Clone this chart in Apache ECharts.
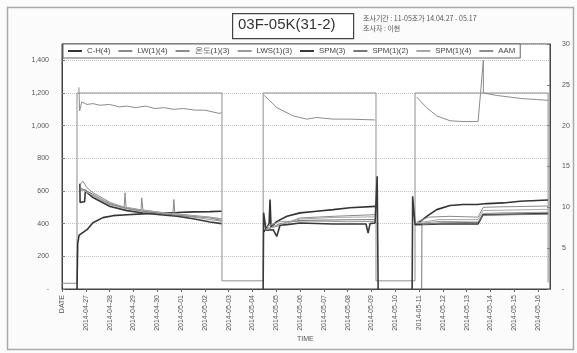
<!DOCTYPE html>
<html>
<head>
<meta charset="utf-8">
<script src="https://cdn.jsdelivr.net/npm/echarts@6/dist/echarts.min.js"></script>
<style>
    html, body { margin: 0; padding: 0; background: #fbfbfb; }
    #chart { width: 577px; height: 353px; }
</style>
</head>
<body>
<div id="chart"></div>
<script>
    // x = days since 2014-04-26 00:00
    var dayLabels = ['2014-04-27', '2014-04-28', '2014-04-29', '2014-04-30', '2014-05-01', '2014-05-02',
        '2014-05-03', '2014-05-04', '2014-05-05', '2014-05-06', '2014-05-07', '2014-05-08', '2014-05-09',
        '2014-05-10', '2014-05-11', '2014-05-12', '2014-05-13', '2014-05-14', '2014-05-15', '2014-05-16'];
    var seriesNames = ['C-H(4)', 'LW(1)(4)', '온도(1)(3)', 'LWS(1)(3)', 'SPM(3)', 'SPM(1)(2)', 'SPM(1)(4)', 'AAM'];

    var chA = [
        [[0.63, 0], [0.66, 280], [0.72, 330], [1.05, 363], [1.30, 406], [1.72, 437], [2.14, 449], [2.73, 455], [3.40, 460],
            [4.12, 465], [4.83, 468], [5.50, 472], [6.22, 474], [6.70, 476]],
        [[8.48, 350], [8.70, 400], [8.74, 548], [8.78, 380], [9.03, 414], [9.45, 445], [10.0, 466], [10.70, 476],
            [11.39, 486], [12.10, 497], [13.15, 506]],
        [[14.88, 394], [15.32, 445], [15.74, 486], [16.30, 511], [16.85, 517], [17.44, 517], [17.86, 523], [18.53, 527],
            [19.24, 537], [20.42, 545]]
    ];
    var lwB = [
        [[0.76, 640], [0.88, 660], [1.05, 620], [1.30, 590], [2.02, 530], [2.61, 500], [2.65, 589], [2.69, 500],
            [3.32, 485], [3.35, 558], [3.40, 484], [4.12, 470], [4.66, 462], [4.70, 548], [4.74, 461], [5.50, 450],
            [6.22, 440], [6.70, 430]],
        [[8.55, 370], [9.03, 383], [10.0, 435], [11.39, 445], [13.15, 455]],
        [[14.90, 410], [15.40, 440], [16.30, 445], [17.48, 440], [17.69, 500], [18.40, 503], [19.24, 505], [20.42, 508]]
    ];
    // temperature, right axis
    var tempT = [
        [[0.71, 24.7], [0.74, 21.8], [0.83, 22.9], [1.05, 22.6], [1.30, 22.7], [1.60, 22.5], [2.00, 22.6], [2.40, 22.3],
            [2.73, 22.4], [3.10, 22.2], [3.50, 22.4], [3.90, 22.1], [4.30, 22.2], [4.70, 22.0], [5.10, 22.1], [5.59, 21.9],
            [6.00, 21.9], [6.30, 21.7], [6.60, 21.5], [6.70, 21.6]],
        [[8.50, 23.7], [9.03, 22.2], [9.71, 21.2], [10.28, 20.8], [10.70, 21.0], [11.39, 20.8], [12.10, 20.8], [13.15, 20.7]],
        [[14.90, 23.5], [15.32, 22.2], [15.74, 21.2], [16.30, 20.6], [16.85, 20.5], [17.48, 20.5], [17.70, 28.0],
            [17.70, 24.0], [18.26, 23.7], [18.82, 23.5], [19.37, 23.3], [19.94, 23.2], [20.42, 23.1]]
    ];
    var lwsC = [
        [[0.76, 600], [0.97, 610], [1.30, 570], [2.02, 515], [2.73, 490], [3.40, 475], [4.12, 460], [4.83, 450],
            [5.50, 440], [6.22, 425], [6.70, 415]],
        [[8.55, 380], [9.16, 414], [10.5, 416], [12.0, 412], [13.15, 414]],
        [[14.90, 400], [15.88, 414], [17.48, 410], [17.69, 462], [18.40, 466], [20.42, 470]]
    ];
    var spmD = [
        [[0.75, 645], [0.76, 530], [0.95, 535], [0.98, 600], [1.30, 560], [2.02, 505], [2.73, 480], [3.40, 465],
            [4.12, 455], [4.83, 445], [5.50, 430], [6.22, 410], [6.70, 400]],
        [[8.45, 0], [8.47, 467], [8.57, 360], [8.87, 363], [9.02, 322], [9.16, 390], [9.45, 394], [10.0, 404],
            [11.39, 398], [12.77, 398], [12.86, 343], [12.94, 400], [13.15, 404], [13.24, 690], [13.28, 0]],
        [[14.71, 0], [14.73, 568], [14.83, 394], [15.88, 398], [17.48, 398], [17.69, 455], [20.42, 462]]
    ];
    var spmE = [
        [[0.76, 620], [1.30, 580], [2.02, 520], [2.73, 495], [3.40, 478], [4.12, 462], [4.83, 452], [5.50, 445],
            [6.22, 435], [6.70, 420]],
        [[8.55, 360], [9.16, 400], [10.0, 420], [11.5, 423], [13.15, 425]],
        [[15.11, 0], [15.12, 394], [15.88, 405], [17.48, 408], [17.69, 452], [20.42, 458]]
    ];
    var spmF = [
        [[0.80, 610], [1.30, 575], [2.02, 525], [2.73, 498], [3.40, 482], [4.12, 468], [4.83, 457], [5.50, 448],
            [6.22, 438], [6.70, 428]],
        [[8.55, 365], [9.16, 395], [10.0, 428], [11.39, 438], [13.15, 442]],
        [[14.90, 405], [15.88, 425], [17.48, 425], [17.69, 480], [20.42, 488]]
    ];
    var aamR = [
        [[0, 35], [0.63, 35], [0.63, 1200], [6.72, 1200], [6.72, 50], [8.45, 50], [8.45, 1200], [13.19, 1200],
            [13.19, 50], [14.83, 50], [14.83, 1200], [20.42, 1200], [20.42, 40]]
    ];

    var seriesData = [chA, lwB, tempT, lwsC, spmD, spmE, spmF, aamR];
    var seriesColor = ['#333', '#8a8a8a', '#8c8c8c', '#9a9a9a', '#3a3a3a', '#777', '#a8a8a8', '#8e8e8e'];
    var seriesWidth = [1.6, 1, 1, 1, 1.6, 1, 1, 1];

    // join segments, break the line between them
    function joinSegments(segs) {
        var out = [];
        for (var i = 0; i < segs.length; i++) {
            if (i > 0) out.push([segs[i][0][0], '-']);
            out = out.concat(segs[i]);
        }
        return out;
    }

    var myChart = echarts.init(document.getElementById('chart'));

    var temp_series = [];
    for (var i = 0; i < seriesNames.length; i++) {
        temp_series.push({
            name: seriesNames[i],
            type: 'line',
            yAxisIndex: i === 2 ? 1 : 0,
            symbol: 'none',
            showSymbol: false,
            connectNulls: false,
            lineStyle: {color: seriesColor[i], width: seriesWidth[i]},
            itemStyle: {color: seriesColor[i]},
            z: i === 7 ? 1 : 2,
            data: joinSegments(seriesData[i])
        });
    }

    var option = {
        animation: false,
        backgroundColor: '#fbfbfb',
        grid: {left: 62, right: 27, top: 44, bottom: 64, show: true, backgroundColor: '#fff', borderColor: '#444', borderWidth: 1},
        legend: {
            left: 63, top: 44,
            icon: 'rect',
            itemWidth: 14, itemHeight: 2, itemGap: 8,
            padding: [3, 5],
            borderColor: '#666', borderWidth: 1, backgroundColor: '#fff',
            textStyle: {fontSize: 7.8, color: '#444', fontFamily: 'Liberation Sans'},
            data: seriesNames
        },
        graphic: [
            {type: 'rect', left: 5, top: 5, shape: {width: 566, height: 342}, style: {fill: 'none', stroke: '#aaa', lineWidth: 1.5}, silent: true},
            {type: 'rect', left: 232, top: 13, shape: {width: 121, height: 25}, style: {fill: '#fff', stroke: '#444', lineWidth: 1.2}},
            {type: 'text', left: 238, top: 17, style: {text: '03F-05K(31-2)', fontSize: 15, fill: '#333', fontFamily: 'Liberation Sans'}},
            {type: 'text', left: 363, top: 13, style: {text: '조사기간 : 11-05조가 14.04.27 - 05.17\n조사자 : 이현', fontSize: 7, lineHeight: 10, fill: '#555', fontFamily: 'Noto Sans CJK KR'}},
            {type: 'text', left: 297, top: 336, style: {text: 'TIME', fontSize: 7, fill: '#555', fontFamily: 'Liberation Sans'}}
        ],
        xAxis: {
            type: 'value',
            min: 0, max: 20.5, interval: 1,
            axisLine: {lineStyle: {color: '#444'}},
            axisTick: {show: true, length: 3, lineStyle: {color: '#666'}},
            splitLine: {show: false},
            axisLabel: {
                rotate: 90, margin: 6, showMaxLabel: false, fontSize: 7, color: '#555', fontFamily: 'Liberation Sans',
                formatter: function (v) {
                    if (v === 0) return 'DATE';
                    return dayLabels[Math.round(v) - 1] || '';
                }
            }
        },
        yAxis: [
            {
                type: 'value', position: 'left',
                min: 0, max: 1500, interval: 200,
                axisLine: {show: true, lineStyle: {color: '#444'}},
                axisTick: {show: true, inside: true, length: 3, lineStyle: {color: '#777'}},
                splitLine: {show: true, lineStyle: {color: '#c4c4c4', type: 'dotted'}},
                axisLabel: {
                    margin: 13, fontSize: 7, color: '#555', fontFamily: 'Liberation Sans', showMaxLabel: false,
                    formatter: function (v) {
                        if (v === 0) return '-';
                        if (v > 1400) return '';
                        return v.toLocaleString('en-US');
                    }
                }
            },
            {
                type: 'value', position: 'right',
                min: 0, max: 30, interval: 5,
                axisLine: {show: true, lineStyle: {color: '#444'}},
                axisTick: {show: true, inside: true, length: 3, lineStyle: {color: '#777'}},
                splitLine: {show: false},
                axisLabel: {
                    margin: 12, fontSize: 7, color: '#555', fontFamily: 'Liberation Sans',
                    formatter: function (v) { return v === 0 ? '-' : v; }
                }
            }
        ],
        series: temp_series
    };

    myChart.setOption(option);
</script>
</body>
</html>
